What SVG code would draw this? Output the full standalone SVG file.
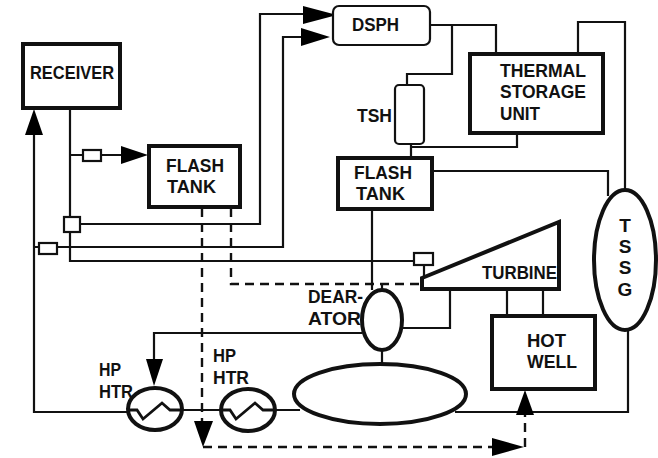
<svg xmlns="http://www.w3.org/2000/svg" width="658" height="458" viewBox="0 0 658 458">
<style>
.bg{fill:#fff}
.c{fill:none;stroke:#111;stroke-width:2.2}
.d{fill:none;stroke:#111;stroke-width:2.4;stroke-dasharray:9 6}
.a{fill:#000;stroke:none}
.b{fill:#fff;stroke:#111;stroke-width:4}
.h{fill:#fff;stroke:#111;stroke-width:2.2}
.z{fill:none;stroke:#111;stroke-width:2.8}
text{font-family:"Liberation Sans",Arial,sans-serif;font-weight:700;font-size:19px;fill:#111}
</style>
<rect class="bg" width="658" height="458"/>
<g id="connectors">
<path class="c" d="M34 130V412H128M182 410H221M275 410H300"/>
<path class="c" d="M70 108V261H414"/>
<path class="c" d="M70 155H122"/>
<path class="c" d="M78 224H260V14H304"/>
<path class="c" d="M34 247H283V37H302"/>
<path class="c" d="M430 25H496V54"/>
<path class="c" d="M452 25V74H407V85"/>
<path class="c" d="M411 144V158M411 147H517V133"/>
<path class="c" d="M578 54V22H625V190"/>
<path class="c" d="M432 171H608V196"/>
<path class="c" d="M372 209V290"/>
<path class="c" d="M362 333H154V360"/>
<path class="c" d="M403 328H450V289"/>
<path class="c" d="M424 265V279"/>
<path class="c" d="M382 284V290M382 351V364"/>
<path class="c" d="M507 289V316M543 289V316"/>
<path class="c" d="M455 412H628V330"/>
<path class="d" d="M202 208V422"/>
<path class="d" d="M231 208V284H422"/>
<path class="d" d="M203 447H494"/>
<path class="d" d="M525 447V414"/>
<path class="a" d="M34 109L43 135H25Z"/>
<path class="a" d="M148 155L121 146V164Z"/>
<path class="a" d="M337 15L303 6V24Z"/>
<path class="a" d="M330 37L301 28V46Z"/>
<path class="a" d="M154 386L146 359H163Z"/>
<path class="a" d="M203 447L194 421H213Z"/>
<path class="a" d="M524 447L492 438V456Z"/>
<path class="a" d="M525 390L516 415H534Z"/>
<rect class="h" x="83" y="150" width="18" height="11"/>
<rect class="h" x="64" y="217" width="16" height="15"/>
<rect class="h" x="39" y="243" width="18" height="11"/>
<rect class="h" x="414" y="253" width="19" height="12"/>
</g>
<g id="receiver"><rect class="b" x="23" y="44" width="97" height="64"/><text x="30" y="79" textLength="84" lengthAdjust="spacingAndGlyphs">RECEIVER</text></g>
<g id="flash-tank-1"><rect class="b" x="149" y="146" width="91" height="61"/><text x="166" y="172" textLength="58" lengthAdjust="spacingAndGlyphs">FLASH</text><text x="167" y="193" textLength="49" lengthAdjust="spacingAndGlyphs">TANK</text></g>
<g id="dsph"><rect class="h" x="333" y="6" width="97" height="39" rx="6"/><text x="352" y="31" textLength="47" lengthAdjust="spacingAndGlyphs">DSPH</text></g>
<g id="tsh"><rect class="h" x="395" y="85" width="29" height="59" rx="4"/><text x="357" y="122" textLength="35" lengthAdjust="spacingAndGlyphs">TSH</text></g>
<g id="thermal-storage"><rect class="b" x="470" y="54" width="133" height="79"/><text x="500" y="77" textLength="86" lengthAdjust="spacingAndGlyphs">THERMAL</text><text x="500" y="98" textLength="86" lengthAdjust="spacingAndGlyphs">STORAGE</text><text x="500" y="120" textLength="40" lengthAdjust="spacingAndGlyphs">UNIT</text></g>
<g id="flash-tank-2"><rect class="b" x="338" y="158" width="94" height="51"/><text x="354" y="179" textLength="58" lengthAdjust="spacingAndGlyphs">FLASH</text><text x="356" y="200" textLength="49" lengthAdjust="spacingAndGlyphs">TANK</text></g>
<g id="tssg"><ellipse class="b" cx="625" cy="260" rx="31" ry="70"/><g text-anchor="middle"><text x="625" y="232">T</text><text x="625" y="253">S</text><text x="625" y="274">S</text><text x="625" y="296">G</text></g></g>
<g id="turbine"><path class="b" d="M422 278L559 222V289H422Z"/><text x="482" y="279" textLength="75" lengthAdjust="spacingAndGlyphs">TURBINE</text></g>
<g id="deaerator"><ellipse class="b" cx="382" cy="320" rx="20" ry="30"/><text x="308" y="303" textLength="55" lengthAdjust="spacingAndGlyphs">DEAR-</text><text x="308" y="325" textLength="53" lengthAdjust="spacingAndGlyphs">ATOR</text></g>
<g id="hot-well"><rect class="b" x="492" y="316" width="103" height="73"/><text x="527" y="347" textLength="39" lengthAdjust="spacingAndGlyphs">HOT</text><text x="527" y="368" textLength="50" lengthAdjust="spacingAndGlyphs">WELL</text></g>
<g id="drum"><ellipse class="b" cx="380" cy="394" rx="86" ry="30"/></g>
<g id="hp-htr-1"><ellipse class="b" cx="155" cy="409" rx="27" ry="21"/><path class="z" d="M128 410H137L143 419L162 403L170 410H182"/><text x="99" y="376" textLength="22" lengthAdjust="spacingAndGlyphs">HP</text><text x="99" y="398" textLength="34" lengthAdjust="spacingAndGlyphs">HTR</text></g>
<g id="hp-htr-2"><ellipse class="b" cx="248" cy="410" rx="27" ry="21"/><path class="z" d="M221 410H230L236 419L255 403L263 410H275"/><text x="213" y="362" textLength="23" lengthAdjust="spacingAndGlyphs">HP</text><text x="213" y="384" textLength="36" lengthAdjust="spacingAndGlyphs">HTR</text></g>
</svg>
